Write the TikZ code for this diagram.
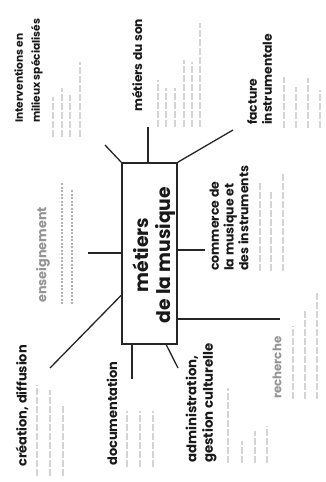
\documentclass[tikz,border=0pt]{standalone}
\usepackage{fontspec}
\setmainfont{Poppins}
\usetikzlibrary{calc}
\tikzset{
  title/.style={font=\bfseries\fontsize{12.5}{15.5}\selectfont, rotate=90, anchor=west, align=left, inner sep=0pt, text=black!90},
  graytitle/.style={title, text=black!42},
  sub/.style={line width=2.2pt, draw=black!17, dash pattern=on 7pt off 2pt},
  subdark/.style={line width=1.6pt, draw=black!30, dash pattern=on 2pt off 1.5pt},
  conn/.style={line width=1.3pt, draw=black!85},
  mainbox/.style={draw=black!85, line width=1.5pt, minimum width=55pt, minimum height=181pt, inner sep=0pt},
  maintext/.style={font=\bfseries\fontsize{18.8}{22}\selectfont, rotate=90, align=center, inner sep=0pt, text=black!90},
}
\begin{document}
\begin{tikzpicture}[x=1pt,y=-1pt]
\useasboundingbox (0,0) rectangle (326,482);
\fill[white] (0,0) rectangle (326,482);

% central box
\node[mainbox] (box) at (149.5,253.5) {};
\node[maintext] (boxtext) at (154,255) {métiers\\de la musique};

% titles
\node[title, font=\bfseries\fontsize{10.6}{17}\selectfont] (interv) at (28.5,123) {Interventions en\\milieux spécialisés};
\node[title, font=\bfseries\fontsize{12.2}{15}\selectfont] (son) at (137,112) {métiers du son};
\node[title, font=\bfseries\fontsize{12.3}{15}\selectfont] (facture) at (259.5,125) {facture\\instrumentale};
\node[title, font=\bfseries\fontsize{12.5}{14.8}\selectfont] (commerce) at (229,271) {commerce de\\la musique et\\des instruments};
\node[graytitle, font=\bfseries\fontsize{12.8}{15}\selectfont] (enseign) at (43,303) {enseignement};
\node[title, font=\bfseries\fontsize{13}{15}\selectfont] (creation) at (22,467) {création, diffusion};
\node[title, font=\bfseries\fontsize{13}{15}\selectfont] (docu) at (112,466) {documentation};
\node[title, font=\bfseries\fontsize{13.3}{16.5}\selectfont] (admin) at (201,463) {administration,\\gestion culturelle};
\node[graytitle, font=\bfseries\fontsize{11.8}{15}\selectfont] (rech) at (277,399) {recherche};

% free connector ends
\coordinate (cInterv) at (105,145);
\coordinate (cSon) at (148,127);
\coordinate (cFact) at (233,130);
\coordinate (cComm) at (205,250);
\coordinate (cRech) at (280,319);
\coordinate (cAdmin) at (178,368);
\coordinate (cDoc) at (132,379);
\coordinate (cCrea) at (50,368);
\coordinate (cEns) at (88,253);

% connectors
\draw[conn] (box.north west) -- (cInterv);
\draw[conn] (box.north west -| cSon) -- (cSon);
\draw[conn] (box.north east) -- (cFact);
\draw[conn] (box.east |- cComm) -- (cComm);
\draw[conn] (box.east |- cRech) -- (cRech);
\draw[conn] ($(box.south west)+(45,0)$) -- (cAdmin);
\draw[conn] (box.south west -| cDoc) -- (cDoc);
\draw[conn] ($(box.north west)+(0,133)$) -- (cCrea);
\draw[conn] (box.west |- cEns) -- (cEns);

% illegible sub-lines (blurred small text)
\foreach \x/\t in {53/97, 62/88, 70/95, 80/62} \draw[sub] (\x,137) -- (\x,\t);
\foreach \x/\t in {158/80, 166/88, 175/88, 184/60, 192/62, 200/23} \draw[sub] (\x,127) -- (\x,\t);
\foreach \x/\t in {284/77, 296/87, 308/78, 320/90} \draw[sub] (\x,128) -- (\x,\t);
\foreach \x/\t in {260/183, 271/190, 283/173} \draw[sub] (\x,271) -- (\x,\t);
\foreach \x/\t in {62/183, 72/190} \draw[subdark] (\x,304) -- (\x,\t);
\foreach \x/\t in {37/385, 50/390, 63/405} \draw[sub] (\x,476) -- (\x,\t);
\foreach \x/\t in {127/411, 140/411, 153/411} \draw[sub] (\x,467) -- (\x,\t);
\foreach \x/\t in {228/388, 242/441, 255/431, 267/426} \draw[sub] (\x,463) -- (\x,\t);
\foreach \x/\t in {293/326, 305/309, 317/293} \draw[sub] (\x,399) -- (\x,\t);
\end{tikzpicture}
\end{document}
